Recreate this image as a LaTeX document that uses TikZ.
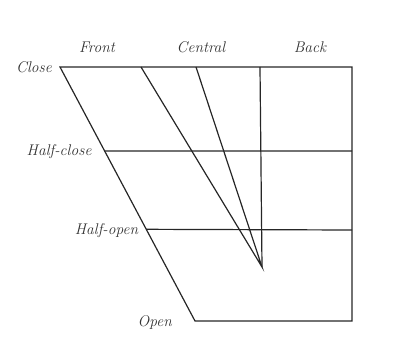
\documentclass[tikz,border=0pt]{standalone}
\usepackage{tikz}
\usetikzlibrary{positioning, calc}

\begin{document}
\begin{tikzpicture}[
    x=1pt, y=1pt,
    font=\fontsize{15.5}{17}\selectfont\itshape,
    vline/.style={line width=1.2pt, draw=black!85},
    lab/.style={inner sep=2pt, text=black!80},
  ]
    \useasboundingbox (0,0) rectangle (393,343);
    % corners of the vowel diagram
    \coordinate (closeL) at (60,276);
    \coordinate (closeR) at (352,276);
    \coordinate (openL) at (195,22);
    \coordinate (openR) at (352,22);
    \coordinate (hcloseL) at ($(closeL)!0.331!(openL)$);
    \coordinate (hcloseR) at (352,192);
    \coordinate (hopenL) at ($(closeL)!0.639!(openL)$);
    \coordinate (hopenR) at (352,113);
    \coordinate (frontT) at (141,276);
    \coordinate (centT) at (196,276);
    \coordinate (backT) at (260,276);
    \coordinate (apex) at (262,76);

    \draw[vline] (closeL) -- (closeR) -- (openR) -- (openL) -- cycle;
    \draw[vline] (hcloseL) -- (hcloseR);
    \draw[vline] (hopenL) -- (hopenR);
    \draw[vline] (frontT) -- (apex) -- (centT);
    \draw[vline] (backT) -- (apex);

    % labels
    \node[lab] (front) at (97,296) {Front};
    \node[lab] (central) at (201,296) {Central};
    \node[lab] (back) at (310,296) {Back};
    \node[lab, left=6pt of closeL] (close) {Close};
    \node[lab, left=11pt of hcloseL, yshift=-1pt] (hclose) {Half-close};
    \node[lab, left=6pt of hopenL, yshift=-1pt] (hopen) {Half-open};
    \node[lab, left=21pt of openL, yshift=-2pt] (open) {Open};
  \end{tikzpicture}
\end{document}
